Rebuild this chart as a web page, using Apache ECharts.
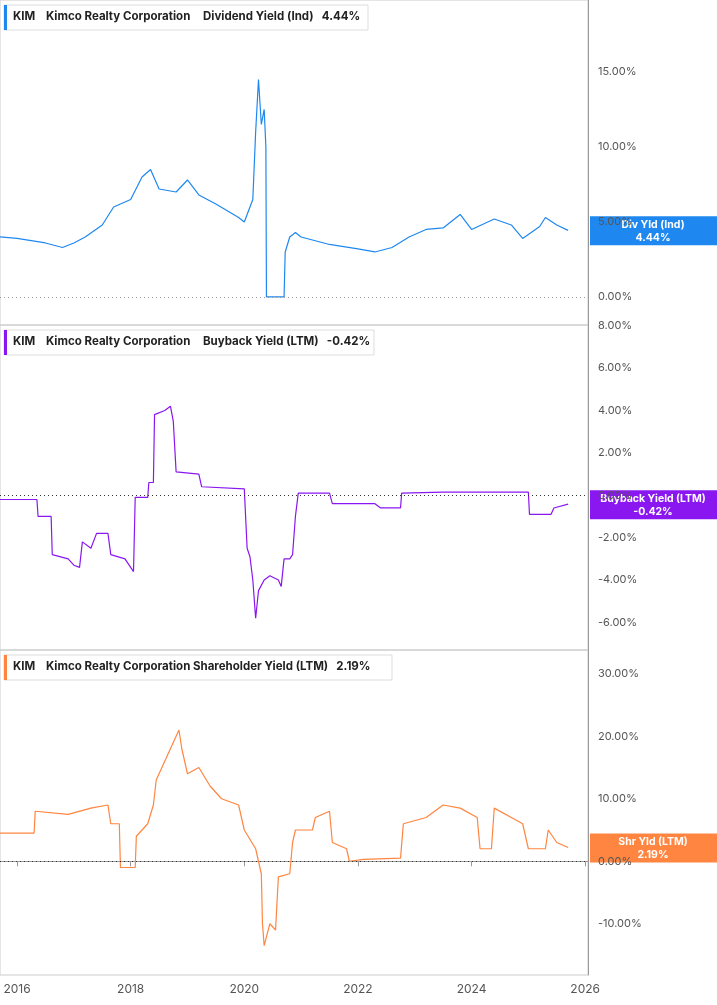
<!DOCTYPE html>
<html><head><meta charset="utf-8">
<script src="https://cdn.jsdelivr.net/npm/echarts@6/dist/echarts.min.js"></script>
<style>html,body{margin:0;padding:0;background:#fff}#c{width:717px;height:1005px}</style>
</head><body><div id="c"></div>
<script>
var xTicks = [2016, 2018, 2020, 2022, 2024, 2026];

var divYield = [[2015.7,4.0],[2016.0,3.9],[2016.5,3.6],[2016.8,3.3],[2017.0,3.6],[2017.2,4.0],[2017.5,4.8],[2017.7,6.0],[2018.0,6.5],[2018.2,8.0],[2018.35,8.5],[2018.5,7.2],[2018.8,7.0],[2019.0,7.8],[2019.2,6.8],[2019.5,6.2],[2019.9,5.3],[2020.0,5.0],[2020.15,6.5],[2020.2,11],[2020.25,14.5],[2020.3,11.5],[2020.35,12.5],[2020.38,10],[2020.39,0],[2020.7,0],[2020.72,3],[2020.8,4.0],[2020.9,4.3],[2021.0,4.0],[2021.5,3.5],[2022.0,3.2],[2022.3,3.0],[2022.6,3.3],[2022.9,4.0],[2023.2,4.5],[2023.5,4.6],[2023.8,5.5],[2024.0,4.5],[2024.4,5.2],[2024.7,4.8],[2024.9,3.9],[2025.2,4.7],[2025.3,5.3],[2025.5,4.8],[2025.7,4.44]];

var buyback = [[2015.7,-0.2],[2016.35,-0.2],[2016.37,-1.0],[2016.6,-1.0],[2016.62,-2.8],[2016.9,-3.0],[2017.0,-3.3],[2017.1,-3.4],[2017.15,-2.2],[2017.3,-2.5],[2017.4,-1.8],[2017.6,-1.8],[2017.65,-2.8],[2017.9,-3.0],[2018.05,-3.6],[2018.08,-0.1],[2018.3,-0.1],[2018.32,0.6],[2018.4,0.6],[2018.42,3.8],[2018.6,4.0],[2018.7,4.2],[2018.75,3.5],[2018.8,1.1],[2019.2,1.0],[2019.25,0.4],[2020.0,0.3],[2020.05,-2.5],[2020.1,-2.9],[2020.15,-4.0],[2020.2,-5.8],[2020.25,-4.5],[2020.35,-4.0],[2020.45,-3.8],[2020.6,-4.0],[2020.65,-4.3],[2020.7,-3.0],[2020.8,-3.0],[2020.85,-2.8],[2020.9,-1.0],[2020.95,0.1],[2021.5,0.1],[2021.55,-0.4],[2022.3,-0.4],[2022.4,-0.6],[2022.75,-0.6],[2022.77,0.1],[2023.5,0.15],[2025.0,0.15],[2025.02,-0.9],[2025.4,-0.9],[2025.45,-0.6],[2025.7,-0.42]];

var shareholder = [[2015.7,4.5],[2016.3,4.5],[2016.32,8],[2016.9,7.5],[2017.3,8.5],[2017.6,9],[2017.65,6],[2017.8,6],[2017.82,-1],[2018.08,-1],[2018.1,4],[2018.3,6],[2018.4,9],[2018.45,13],[2018.7,18],[2018.8,20],[2018.85,21],[2018.9,18],[2019.0,14],[2019.2,15],[2019.4,12],[2019.6,10],[2019.9,9],[2020.0,5],[2020.2,2],[2020.3,-2],[2020.32,-10],[2020.35,-13.5],[2020.45,-10],[2020.55,-11],[2020.6,-2.5],[2020.8,-2],[2020.85,3],[2020.9,5],[2021.2,5],[2021.25,7],[2021.5,8],[2021.55,3],[2021.8,2],[2021.85,0],[2022.1,0.3],[2022.75,0.5],[2022.8,6],[2023.2,7],[2023.5,9],[2023.8,8.5],[2024.1,7],[2024.15,2],[2024.35,2],[2024.4,8.5],[2024.7,7],[2024.9,6],[2025.0,2],[2025.3,2],[2025.35,5],[2025.5,3],[2025.7,2.19]];

var panels = [
  {name:'Dividend Yield (Ind)', last:'4.44%', tag:'Div Yld (Ind)', color:'#1e88f0', data:divYield, min:-1.87, max:19.8, interval:5, top:0},
  {name:'Buyback Yield (LTM)', last:'-0.42%', tag:'Buyback Yield (LTM)', color:'#8a17f0', data:buyback, min:-7.3, max:8.03, interval:2, top:325},
  {name:'Shareholder Yield (LTM)', last:'2.19%', tag:'Shr Yld (LTM)', color:'#ff8540', data:shareholder, min:-18.2, max:33.8, interval:10, top:650}
];

var chart = echarts.init(document.getElementById('c'));
var grids = [], xAxes = [], yAxes = [], series = [];
panels.forEach(function(p, i){
  grids.push({left:0, right:129, top:p.top, height:325, show:true, borderColor:'#ccc', borderWidth:1});
  xAxes.push({type:'value', gridIndex:i, min:2015.7, max:2026.05,
    axisLine:{show:i===2, lineStyle:{color:'#999'}}, splitLine:{show:false},
    axisTick:{show:i===2, customValues:xTicks, lineStyle:{color:'#999'}},
    axisLabel:{show:i===2, customValues:xTicks, color:'#555', fontFamily:'Inter', fontSize:12,
      formatter:function(v){return String(v);}}});
  var ticks = [];
  for (var v = Math.ceil(p.min/p.interval)*p.interval; v <= p.max; v += p.interval) ticks.push(v);
  yAxes.push({type:'value', gridIndex:i, position:'right', min:p.min, max:p.max,
    axisLine:{show:true, lineStyle:{color:'#999'}}, splitLine:{show:false}, axisTick:{show:false},
    axisLabel:{customValues:ticks, color:'#555', fontFamily:'Inter', fontSize:11, margin:10,
      formatter:function(v){return v.toFixed(2)+'%';}}});
  series.push({type:'line', xAxisIndex:i, yAxisIndex:i, data:p.data, showSymbol:false,
    lineStyle:{color:p.color, width:1.2}, animation:false,
    markLine:{silent:true, symbol:'none', label:{show:false},
      lineStyle:{color:i===0?'#999':'#333', type:[1,3], width:1}, data:[{yAxis:0}]}});
});
chart.setOption({grid:grids, xAxis:xAxes, yAxis:yAxes, series:series, animation:false});

var graphics = [];
panels.forEach(function(p, i){
  var w = i===0 ? 364 : (i===1 ? 370 : 388);
  var f = {fontFamily:'Inter', fontWeight:'bold', fontSize:11.5, fill:'#222'};
  graphics.push({type:'rect', shape:{x:4, y:p.top+5, width:w, height:25}, style:{fill:'#fff', stroke:'#ddd'}});
  graphics.push({type:'rect', shape:{x:4, y:p.top+5, width:3, height:25}, style:{fill:p.color}});
  graphics.push({type:'text', x:13, y:p.top+11, style:Object.assign({text:'KIM'}, f)});
  graphics.push({type:'text', x:46, y:p.top+11, style:Object.assign({text:'Kimco Realty Corporation'}, f)});
  graphics.push({type:'text', x:i===2?193:203, y:p.top+11, style:Object.assign({text:p.name+'   '+p.last}, f)});
  var last = p.data[p.data.length-1][1];
  var py = chart.convertToPixel({yAxisIndex:i}, last);
  graphics.push({type:'rect', shape:{x:590, y:py-14, width:127, height:29}, style:{fill:p.color}});
  graphics.push({type:'text', x:653, y:py-12, style:{text:p.tag+'\n'+p.last, align:'center', fontFamily:'Inter', fontWeight:'bold', fontSize:10.5, lineHeight:13, fill:'#fff'}});
});
chart.setOption({graphic:graphics});
</script></body></html>
